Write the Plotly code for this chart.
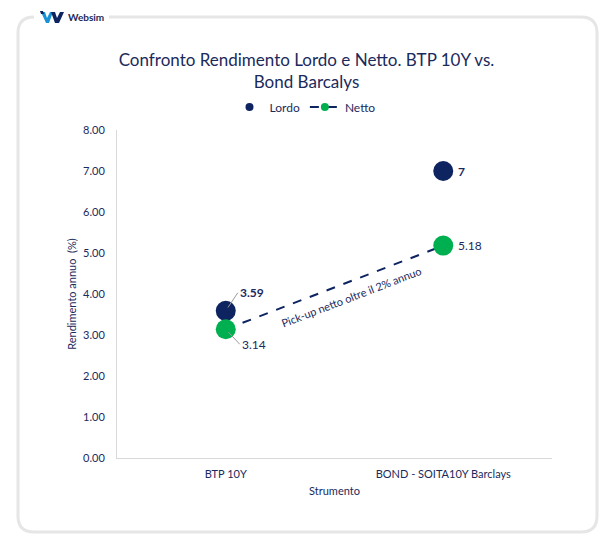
import plotly.graph_objects as go

categories = ["BTP 10Y", "BOND - SOITA10Y Barclays"]
lordo = [3.59, 7]
netto = [3.14, 5.18]
y_ticks = [0, 1, 2, 3, 4, 5, 6, 7, 8]
title_text = "Confronto Rendimento Lordo e Netto. BTP 10Y vs.<br>Bond Barcalys"
pickup_text = "Pick-up netto oltre il 2% annuo"

NAVY = "#0e2461"
GREEN = "#00b050"
TXT = "#1b2a5c"
FONT = "Lato"

W, H = 613, 552
L, R, T, B = 117, 61, 130, 94
pw, ph = W - L - R, H - T - B


def px(x):
    return (x - L) / pw


def py(y):
    return (H - B - y) / ph


fig = go.Figure()
fig.add_trace(go.Scatter(
    x=categories, y=lordo, name="Lordo", mode="markers",
    marker=dict(color=NAVY, size=20), showlegend=False,
))
fig.add_trace(go.Scatter(
    x=categories, y=netto, name="Netto", mode="lines+markers",
    marker=dict(color=GREEN, size=20),
    line=dict(color=NAVY, width=2, dash="dash"), showlegend=False,
))
# legend entries (small symbols, as in the reference)
fig.add_trace(go.Scatter(x=[None], y=[None], name="Lordo", mode="markers",
                         marker=dict(color=NAVY, size=8)))
fig.add_trace(go.Scatter(x=[None], y=[None], name="Netto", mode="lines+markers",
                         marker=dict(color=GREEN, size=8),
                         line=dict(color=NAVY, width=2, dash="dash")))

# card border (rounded rect)
x0, x1, y0, y1 = px(18), px(597), py(532), py(17)
rx, ry = 16 / pw, 16 / ph
path = (f"M {x0+rx},{y1} L {x1-rx},{y1} Q {x1},{y1} {x1},{y1-ry} "
        f"L {x1},{y0+ry} Q {x1},{y0} {x1-rx},{y0} L {x0+rx},{y0} "
        f"Q {x0},{y0} {x0},{y0+ry} L {x0},{y1-ry} Q {x0},{y1} {x0+rx},{y1} Z")
shapes = [
    dict(type="path", xref="paper", yref="paper", path=path,
         line=dict(color="#e6e6e6", width=3), fillcolor="rgba(0,0,0,0)", layer="below"),
    dict(type="rect", xref="paper", yref="paper", x0=px(34), x1=px(109), y0=py(26), y1=py(8),
         fillcolor="white", line=dict(width=0), layer="below"),
    # logo W icon
    dict(type="path", xref="paper", yref="paper",
         path=(f"M {px(41)},{py(12)} L {px(45)},{py(12)} L {px(47)},{py(18)} L {px(50)},{py(12)} "
               f"L {px(53)},{py(12)} L {px(49)},{py(23)} L {px(46)},{py(23)} Z"),
         fillcolor="#1a93d4", line=dict(width=0)),
    dict(type="path", xref="paper", yref="paper",
         path=(f"M {px(51)},{py(12)} L {px(55)},{py(12)} L {px(57)},{py(18)} L {px(60)},{py(12)} "
               f"L {px(64)},{py(12)} L {px(59)},{py(23)} L {px(55)},{py(23)} Z"),
         fillcolor="#0e2461", line=dict(width=0)),
    dict(type="path", xref="paper", yref="paper",
         path=f"M {px(40)},{py(11)} L {px(43)},{py(11)} L {px(44)},{py(14)} L {px(41)},{py(14)} Z",
         fillcolor="#0e2461", line=dict(width=0)),
]

annotations = [
    dict(xref="paper", yref="paper", x=px(66), y=py(17.5), xanchor="left", yanchor="middle",
         text="<b>Websim</b>", showarrow=False, font=dict(family=FONT, size=10, color=TXT)),
    dict(x=categories[0], y=lordo[0], text=f"<b>{lordo[0]:.2f}</b>", showarrow=True,
         arrowhead=0, arrowcolor="#9a9a9a", arrowwidth=1, ax=12, ay=-18, standoff=4,
         xanchor="left", font=dict(family=FONT, size=12, color=TXT)),
    dict(x=categories[0], y=netto[0], text=f"{netto[0]:.2f}", showarrow=True,
         arrowhead=0, arrowcolor="#9a9a9a", arrowwidth=1, ax=14, ay=15, standoff=4,
         xanchor="left", font=dict(family=FONT, size=12, color=TXT)),
    dict(x=categories[1], y=lordo[1], text=f"<b>{lordo[1]:g}</b>", showarrow=False,
         xanchor="left", xshift=13, font=dict(family=FONT, size=12, color=TXT)),
    dict(x=categories[1], y=netto[1], text=f"{netto[1]:.2f}", showarrow=False,
         xanchor="left", xshift=13, font=dict(family=FONT, size=12, color=TXT)),
    dict(x=0.58, y=3.93, text=pickup_text, showarrow=False, textangle=-21,
         font=dict(family=FONT, size=11, color=TXT)),
]

fig.update_layout(
    width=W, height=H,
    margin=dict(l=L, r=R, t=T, b=B),
    paper_bgcolor="white", plot_bgcolor="white",
    font=dict(family=FONT, color=TXT),
    title=dict(text=title_text, x=0.5, xref="container", xanchor="center", y=1 - 65.5 / H,
               yref="container", yanchor="middle", font=dict(family=FONT, size=17, color=TXT)),
    legend=dict(orientation="h", x=px(305), xref="paper", xanchor="center", y=py(107), yref="paper",
                yanchor="middle", font=dict(family=FONT, size=12, color=TXT)),
    shapes=shapes,
    annotations=annotations,
    showlegend=True,
)
fig.update_xaxes(type="category", range=[-0.5, 1.5], showline=True, linecolor="#d9d9d9",
                 linewidth=1, showgrid=False, ticks="", zeroline=False,
                 tickfont=dict(family=FONT, size=11, color=TXT), ticklabelstandoff=6,
                 title=dict(text="Strumento", font=dict(family=FONT, size=11, color=TXT), standoff=8))
fig.update_yaxes(range=[0, 8], tickvals=y_ticks, tickformat=".2f", showline=True,
                 linecolor="#d9d9d9", linewidth=1, showgrid=False, zeroline=False, ticks="",
                 tickfont=dict(family=FONT, size=11, color=TXT), ticklabelstandoff=9,
                 title=dict(text="Rendimento annuo  (%)", font=dict(family=FONT, size=11, color=TXT),
                            standoff=4))

fig.write_html("out.html")
